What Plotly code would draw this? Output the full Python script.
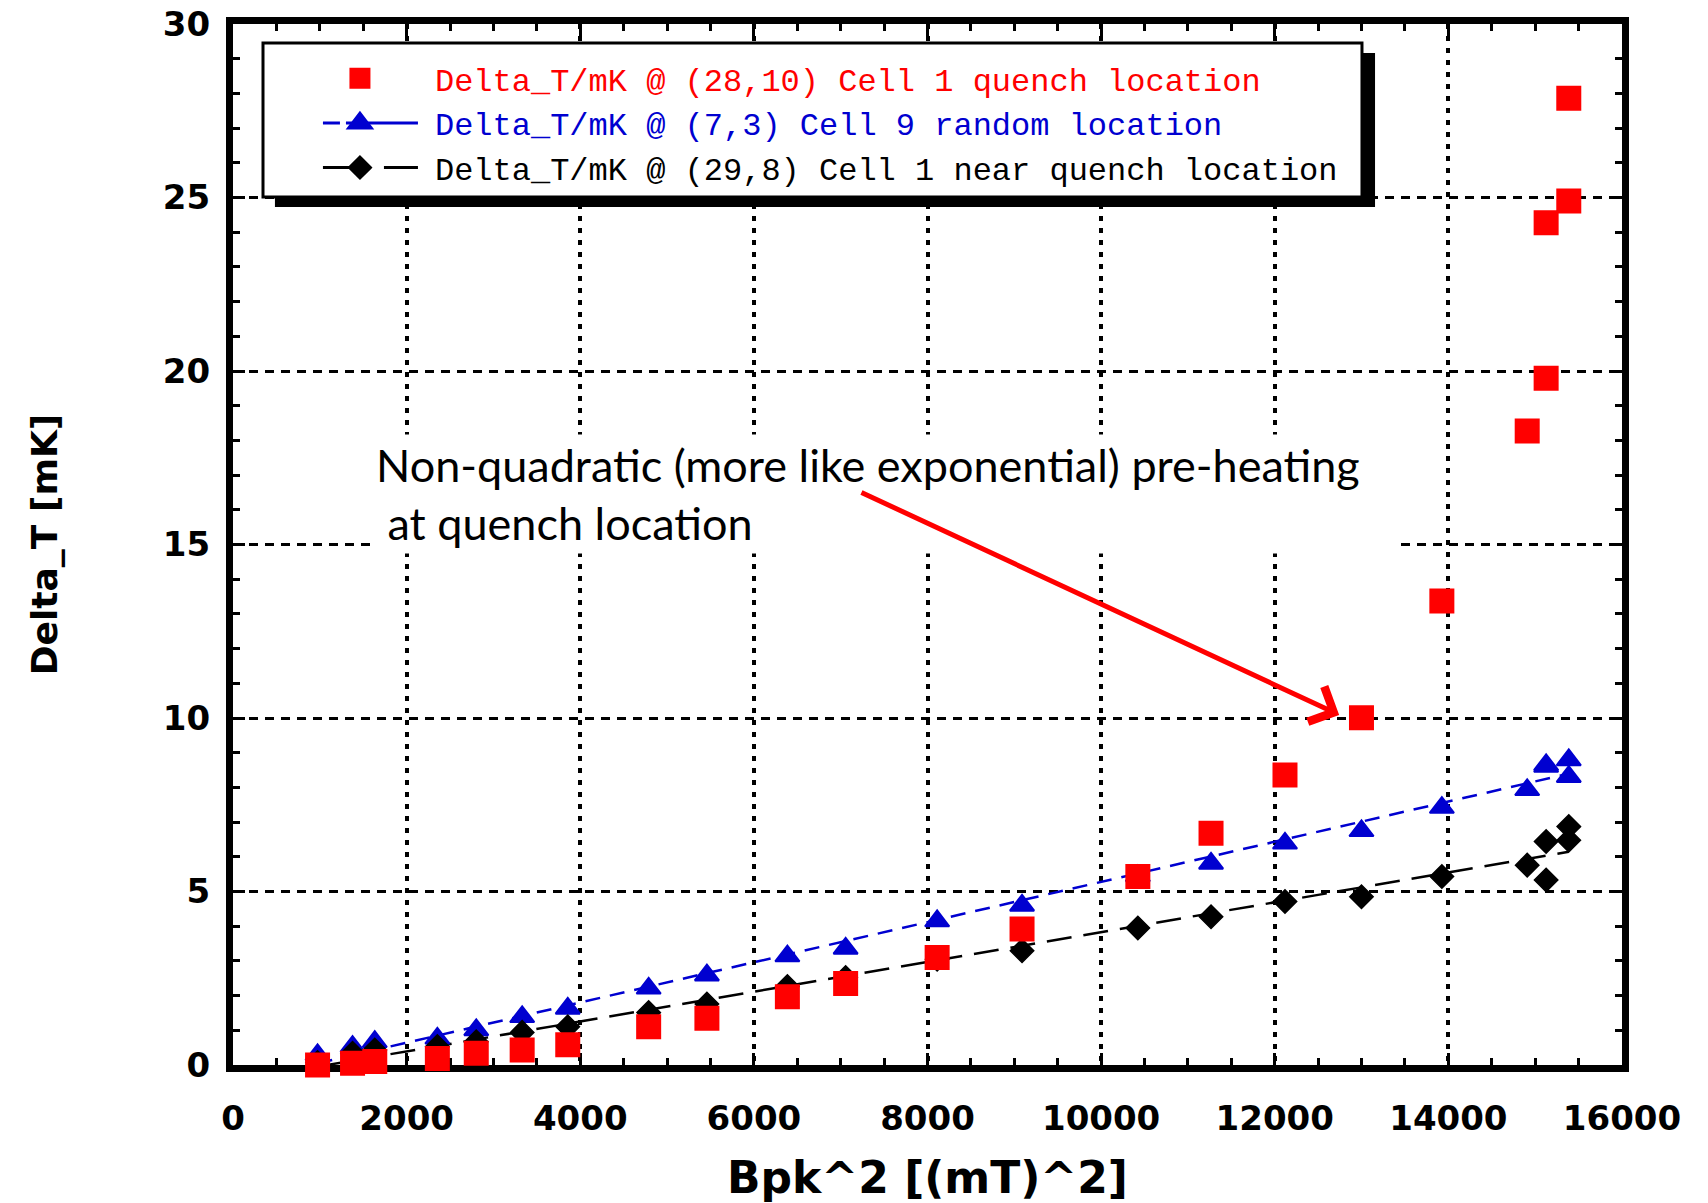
import numpy as np
import plotly.graph_objects as go

# ---------------- data ----------------
bpk2 = [974, 1377, 1633, 2354, 2802, 3331, 3856, 4788, 5459, 6386, 7057, 8111,
        9089, 10423, 11266, 12118, 12999, 13925, 14908, 15126, 15126, 15387, 15387]
dt_quench = [0.0, 0.05, 0.1, 0.19, 0.34, 0.43, 0.58, 1.10, 1.35, 1.97, 2.35, 3.10,
             3.92, 5.43, 6.68, 8.36, 10.01, 13.37, 18.27, 19.79, 24.27, 24.9, 27.86]
dt_random = [0.29, 0.53, 0.67, 0.77, 1.01, 1.39, 1.63, 2.21, 2.59, 3.14, 3.36, 4.15,
             4.6, 5.45, 5.81, 6.39, 6.75, 7.42, 7.93, 8.65, 8.6, 8.79, 8.31]
dt_near = [0.07, 0.34, 0.43, 0.53, 0.67, 0.94, 1.10, 1.51, 1.76, 2.26, 2.52, 3.05,
           3.29, 3.95, 4.27, 4.71, 4.85, 5.43, 5.76, 5.33, 6.44, 6.87, 6.48]

names = ["Delta_T/mK @ (28,10) Cell 1 quench location",
         "Delta_T/mK @ (7,3) Cell 9 random location",
         "Delta_T/mK @ (29,8) Cell 1 near quench location"]
x_ticks = [0, 2000, 4000, 6000, 8000, 10000, 12000, 14000, 16000]
y_ticks = [0, 5, 10, 15, 20, 25, 30]

RED = "#ff0000"
BLUE = "#0000d0"
BLACK = "#000000"

fig = go.Figure()

# fitted (linear in Bpk^2) trend lines
xfit = np.array([min(bpk2), max(bpk2)])
c_rand = np.polyfit(bpk2, dt_random, 1)
c_near = np.polyfit(bpk2, dt_near, 1)

fig.add_trace(go.Scatter(x=xfit, y=np.polyval(c_rand, xfit), mode="lines",
                         line=dict(color=BLUE, width=2.5, dash="15px,10px"),
                         showlegend=False, legendgroup="b", hoverinfo="skip"))
fig.add_trace(go.Scatter(x=xfit, y=np.polyval(c_near, xfit), mode="lines",
                         line=dict(color=BLACK, width=2.5, dash="25px,12px"),
                         showlegend=False, legendgroup="c", hoverinfo="skip"))

# data markers
fig.add_trace(go.Scatter(x=bpk2, y=dt_random, mode="markers", legendgroup="b",
                         showlegend=False, cliponaxis=False,
                         marker=dict(symbol="triangle-up", size=21, color=BLUE,
                                     line=dict(color=BLUE, width=2))))
fig.add_trace(go.Scatter(x=bpk2, y=dt_near, mode="markers", legendgroup="c",
                         showlegend=False, cliponaxis=False,
                         marker=dict(symbol="diamond", size=18, color=BLACK,
                                     line=dict(color=BLACK, width=1.5))))
fig.add_trace(go.Scatter(x=bpk2, y=dt_quench, mode="markers", legendgroup="a",
                         showlegend=False, cliponaxis=False,
                         marker=dict(symbol="square", size=22, color=RED,
                                     line=dict(color=RED, width=3))))

# legend entries
fig.add_trace(go.Scatter(x=[None], y=[None], mode="markers", legendgroup="a",
                         name='<span style="color:%s">%s</span>' % (RED, names[0]),
                         marker=dict(symbol="square", size=16, color=RED,
                                     line=dict(color=RED, width=5))))
fig.add_trace(go.Scatter(x=[None], y=[None], mode="lines+markers", legendgroup="b",
                         name='<span style="color:%s">%s</span>' % (BLUE, names[1]),
                         line=dict(color=BLUE, width=3,
                                   dash="0px,33px,17px,6px,72px,300px"),
                         marker=dict(symbol="triangle-up", size=16, color=BLUE,
                                     line=dict(color=BLUE, width=5))))
fig.add_trace(go.Scatter(x=[None], y=[None], mode="lines+markers", legendgroup="c",
                         name='<span style="color:%s">%s</span>' % (BLACK, names[2]),
                         line=dict(color=BLACK, width=3,
                                   dash="0px,33px,40px,21px,34px,300px"),
                         marker=dict(symbol="diamond", size=16, color=BLACK,
                                     line=dict(color=BLACK, width=3))))

tickfont = dict(family="DejaVu Sans", size=34, color="black", weight="bold")

fig.update_layout(
    width=1708, height=1203,
    margin=dict(l=233, r=86, t=24, b=138, autoexpand=False),
    paper_bgcolor="white", plot_bgcolor="white",
    showlegend=True,
    legend=dict(x=0.0374, y=0.974, xanchor="left", yanchor="top",
                bgcolor="rgba(0,0,0,0)", borderwidth=0,
                font=dict(family="Liberation Mono", size=32, color="black"),
                itemwidth=140, tracegroupgap=0, traceorder="normal",
                itemclick=False, itemdoubleclick=False),
    xaxis=dict(range=[0, 16000], tickvals=x_ticks, ticktext=[str(v) for v in x_ticks],
               automargin=False,
               showline=True, linewidth=7, linecolor="black", mirror="allticks",
               ticks="inside", ticklen=12, tickwidth=3, tickcolor="black",
               minor=dict(dtick=500, tick0=0, ticks="inside", ticklen=7, tickwidth=3,
                          tickcolor="black", showgrid=False),
               showgrid=True, gridcolor="black", gridwidth=3.5, griddash="5px,7px",
               zeroline=False, tickfont=tickfont, ticklabelstandoff=17,
               layer="below traces",
               title=dict(text="Bpk^2 [(mT)^2]", standoff=36,
                          font=dict(family="DejaVu Sans", size=44, color="black",
                                    weight="bold"))),
    yaxis=dict(range=[0, 30], tickvals=y_ticks, ticktext=[str(v) for v in y_ticks],
               automargin=False,
               showline=True, linewidth=7, linecolor="black", mirror="allticks",
               ticks="inside", ticklen=12, tickwidth=3, tickcolor="black",
               minor=dict(dtick=1, tick0=0, ticks="inside", ticklen=7, tickwidth=3,
                          tickcolor="black", showgrid=False),
               showgrid=True, gridcolor="black", gridwidth=2.5, griddash="9px,7px",
               zeroline=False, tickfont=tickfont, ticklabelstandoff=9,
               layer="below traces",
               title=dict(text="Delta_T [mK]", standoff=97,
                          font=dict(family="DejaVu Sans", size=36, color="black",
                                    weight="bold"))),
)

# legend box with drop shadow
fig.add_shape(type="rect", xref="paper", yref="paper", layer="above",
              x0=0.0302, x1=0.8222, y0=0.8242, y1=0.9721,
              fillcolor="black", line=dict(width=0))
fig.add_shape(type="rect", xref="paper", yref="paper", layer="above",
              x0=0.0216, x1=0.8128, y0=0.8338, y1=0.9817,
              fillcolor="white", line=dict(color="black", width=3))

# annotation text and arrow
fig.add_annotation(x=7520, y=16.45, xref="x", yref="y", showarrow=False,
                   text="Non-quadratic (more like exponential) pre-heating<br>\u00a0at quench location",
                   font=dict(family="Lato", size=45, color="black"),
                   bgcolor="white", align="left", width=1020, height=110, borderpad=4,
                   xanchor="center", yanchor="middle")
fig.add_annotation(x=12742, y=10.09, xref="x", yref="y",
                   ax=7222, ay=16.52, axref="x", ayref="y",
                   text="", showarrow=True, arrowcolor=RED, arrowwidth=5,
                   arrowhead=4, arrowsize=1.5, standoff=0)

fig.write_html("out.html")
